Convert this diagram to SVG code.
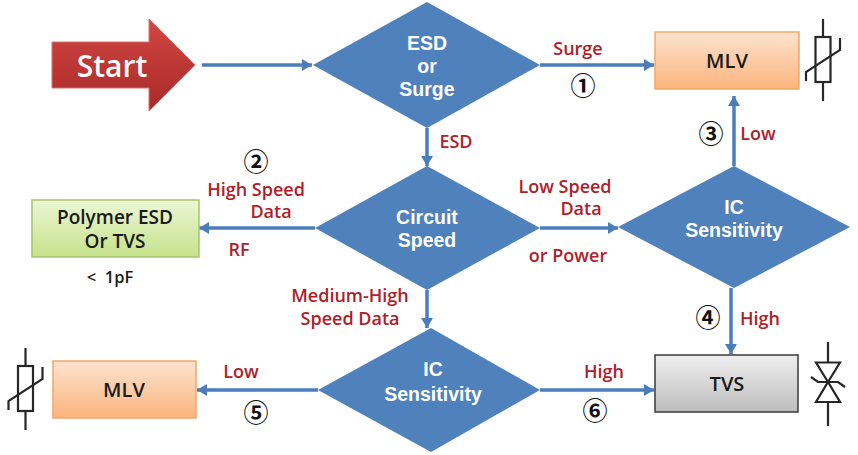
<svg xmlns="http://www.w3.org/2000/svg" width="858" height="455" viewBox="0 0 858 455">
<defs>
<linearGradient id="red" x1="0" y1="0" x2="0" y2="1"><stop offset="0" stop-color="#d24643"/><stop offset="1" stop-color="#a82a28"/></linearGradient>
<linearGradient id="org" x1="0" y1="0" x2="0" y2="1"><stop offset="0" stop-color="#fde3d0"/><stop offset="1" stop-color="#fbb47c"/></linearGradient>
<linearGradient id="grn" x1="0" y1="0" x2="0" y2="1"><stop offset="0" stop-color="#ecf6d6"/><stop offset="1" stop-color="#c5e28a"/></linearGradient>
<linearGradient id="gry" x1="0" y1="0" x2="0" y2="1"><stop offset="0" stop-color="#eeeeee"/><stop offset="1" stop-color="#bdbdbd"/></linearGradient>
<marker id="ah" markerUnits="userSpaceOnUse" markerWidth="11" markerHeight="12" refX="10" refY="6" orient="auto"><path d="M0,0 L10,6 L0,12 Z" fill="#4a7ebb"/></marker>
<g id="varistor" fill="none" stroke="#262626" stroke-width="2.200"><path d="M0,-41 V-23 M0,23 V41"/><rect x="-7.500" y="-23" width="15" height="45"/><path d="M-17,21 V12 L17,-10 V-22"/></g>
</defs>
<style>
text{font-family:"Open Sans","Noto Sans","Liberation Sans",sans-serif;font-weight:700;text-anchor:middle}
.d{fill:#4f81bd}
.dt{fill:#fff;font-size:19.500px;font-weight:700;font-family:"Liberation Sans",Arial,sans-serif}
.l{fill:#b02028;font-size:18px;font-weight:600}
.n{fill:#1a1a1a;font-size:19px;font-weight:600}
.c{fill:none;stroke:#4a7ebb;stroke-width:3.500;marker-end:url(#ah)}
.nt{fill:#111;font-size:25px;font-weight:700;font-family:"Noto Sans CJK KR","DejaVu Sans",sans-serif}
</style>
<g id="connectors">
<path class="c" d="M202,65 H312"/>
<path class="c" d="M540,65 H654"/>
<path class="c" d="M427,128 V166"/>
<path class="c" d="M315,228 H199"/>
<path class="c" d="M540,228 H618"/>
<path class="c" d="M734,166 V96"/>
<path class="c" d="M731,288 V354"/>
<path class="c" d="M427,290 V328"/>
<path class="c" d="M318,390 H197"/>
<path class="c" d="M540,390 H654"/>
</g>
<g id="start"><path d="M52,42 H149 V19 L195,65 L149,111 V88 H52 Z" fill="url(#red)" stroke="#d9706c"/><text x="112" y="77" fill="#fff" style="font-size:30px;font-weight:600">Start</text></g>
<g id="d1"><path class="d" d="M427,2 L540,65 L427,128 L313,65 Z"/><text class="dt" x="427" y="50">ESD</text><text class="dt" x="427" y="73">or</text><text class="dt" x="427" y="96">Surge</text></g>
<g id="d2"><path class="d" d="M427,166 L540,228 L427,290 L315,228 Z"/><text class="dt" x="427" y="224">Circuit</text><text class="dt" x="427" y="247">Speed</text></g>
<g id="d3"><path class="d" d="M734,166 L850,227 L734,288 L618,227 Z"/><text class="dt" x="734" y="214">IC</text><text class="dt" x="734" y="237">Sensitivity</text></g>
<g id="d4"><path class="d" d="M431,328 L540,390 L431,452 L318,390 Z"/><text class="dt" x="433" y="376">IC</text><text class="dt" x="433" y="401">Sensitivity</text></g>
<g id="mlv1"><rect x="655" y="32" width="144" height="57" fill="url(#org)" stroke="#f0a868" stroke-width="1.500"/><text class="n" x="727" y="68" style="font-size:20px">MLV</text></g>
<use id="sym1" href="#varistor" x="823" y="60"/>
<g id="mlv2"><rect x="53" y="361" width="143" height="57" fill="url(#org)" stroke="#f0a868" stroke-width="1.500"/><text class="n" x="124" y="397" style="font-size:20px">MLV</text></g>
<use id="sym2" href="#varistor" x="25.500" y="389"/>
<g id="poly"><rect x="32" y="200" width="167" height="57" fill="url(#grn)" stroke="#a6c46a" stroke-width="1.500"/><text class="n" x="115" y="224">Polymer ESD</text><text class="n" x="115" y="248">Or TVS</text></g>
<text id="pf" x="110" y="283" fill="#1a1a1a" style="font-size:16.500px;font-weight:600" xml:space="preserve">&lt;  1pF</text>
<g id="tvs"><rect x="655" y="355" width="143" height="57" fill="url(#gry)" stroke="#3a3a3a" stroke-width="1.500"/><text class="n" x="727" y="391" style="font-size:20px">TVS</text></g>
<g id="sym3" fill="none" stroke="#262626" stroke-width="2.200"><path d="M828,342 V362 M828,402 V426"/><path d="M816,362.500 H840 L828,382 Z M816,402 H840 L828,382 Z"/><path d="M811,377 L818,382 H838 L845,387"/></g>
<g id="labels">
<text class="l" x="578" y="55">Surge</text>
<text class="l" x="456" y="148">ESD</text>
<text class="l" x="256" y="196">High Speed</text>
<text class="l" x="271" y="218">Data</text>
<text class="l" x="239" y="256">RF</text>
<text class="l" x="565" y="193">Low Speed</text>
<text class="l" x="581" y="215">Data</text>
<text class="l" x="568" y="262">or Power</text>
<text class="l" x="350" y="302">Medium-High</text>
<text class="l" x="350" y="325">Speed Data</text>
<text class="l" x="241" y="378">Low</text>
<text class="l" x="604" y="378">High</text>
<text class="l" x="758" y="140">Low</text>
<text class="l" x="760" y="325">High</text>
</g>
<g id="numbers">
<text class="nt" x="583" y="95">①</text>
<text class="nt" x="256" y="171">②</text>
<text class="nt" x="711" y="143">③</text>
<text class="nt" x="708" y="327">④</text>
<text class="nt" x="256" y="422">⑤</text>
<text class="nt" x="595" y="420">⑥</text>
</g>
</svg>
